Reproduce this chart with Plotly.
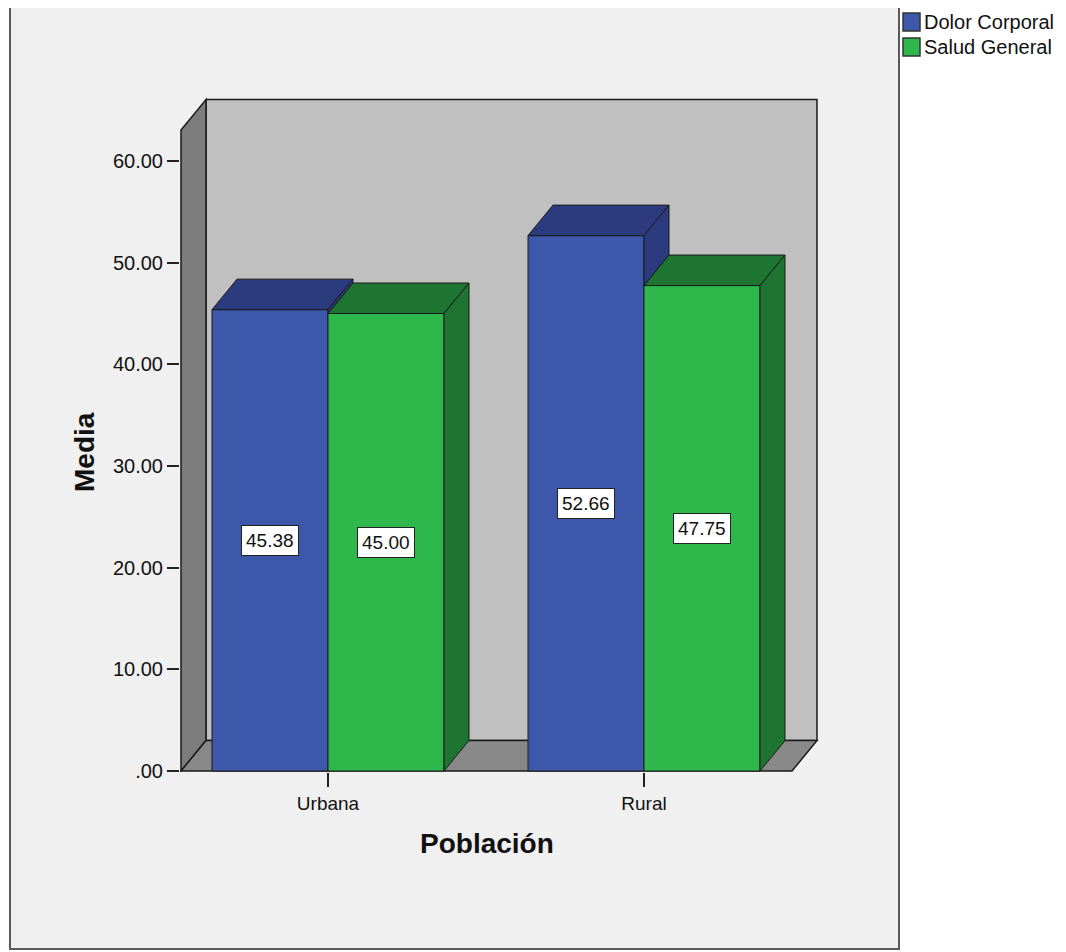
import plotly.graph_objects as go

# ---------------- data ----------------
categories = ["Urbana", "Rural"]
series_names = ["Dolor Corporal", "Salud General"]
dolor_corporal = [45.38, 52.66]
salud_general = [45.00, 47.75]
y_tick_values = [0, 10, 20, 30, 40, 50, 60]
y_tick_labels = [".00", "10.00", "20.00", "30.00", "40.00", "50.00", "60.00"]
x_title = "Población"
y_title = "Media"

series_values = [dolor_corporal, salud_general]

# ---------------- styles / layout constants ----------------
front_colors = ["#3d58ab", "#2eb84b"]
dark_colors = ["#2b3b7d", "#1e7531"]
EDGE = "#1a1a1a"
FONT = "Liberation Sans, Arial, sans-serif"

PAGE_W, PAGE_H = 1066, 952
BODY_MARGIN = 8                      # default browser body margin
PL, PR, PT, PB = 180, 835, 88, 772   # plot-area edges in page pixels
CAT0_PX = 328      # pixel of first category centre
CAT_PX = 316       # pixels per category step
ZERO_PX = 771      # pixel of value 0
VAL_PX = 10.1667   # pixels per value unit


def xd(px):
    return (px - CAT0_PX) / CAT_PX


def yd(py):
    return (ZERO_PX - py) / VAL_PX


def xp(px):
    return (px - PL) / (PR - PL)


def yp(py):
    return (PB - py) / (PB - PT)


X0, X1 = xd(181), xd(792)          # front edges of the floor
YMAX = yd(130)                      # top of the front of the left wall
DX, DY = 25 / CAT_PX, 30.5 / VAL_PX  # 3-D depth offset
BAR_W = 116 / CAT_PX
n_series = len(series_values)
cat_pos = list(range(len(categories)))

fig = go.Figure()

# front faces of bars
for j, (name, vals) in enumerate(zip(series_names, series_values)):
    fig.add_trace(go.Bar(
        x=cat_pos, y=vals, name=name,
        marker=dict(color=front_colors[j], line=dict(color=EDGE, width=1)),
        showlegend=False, hoverinfo="name+y",
    ))

# top and side faces
for i, c in enumerate(cat_pos):
    for j in range(n_series):
        h = series_values[j][i]
        xl = c - n_series * BAR_W / 2 + j * BAR_W
        xr = xl + BAR_W
        fig.add_trace(go.Scatter(
            x=[xl, xr, xr + DX, xl + DX, xl],
            y=[h, h, h + DY, h + DY, h],
            mode="lines", fill="toself", fillcolor=dark_colors[j],
            line=dict(color=EDGE, width=1), showlegend=False, hoverinfo="skip",
        ))
        base = series_values[j + 1][i] if j + 1 < n_series else 0
        if base < h:
            fig.add_trace(go.Scatter(
                x=[xr, xr, xr + DX, xr + DX, xr],
                y=[base, h, h + DY, base + DY, base],
                mode="lines", fill="toself", fillcolor=dark_colors[j],
                line=dict(color=EDGE, width=1), showlegend=False, hoverinfo="skip",
            ))


def path(pts):
    return "M " + " L ".join(f"{x},{y}" for x, y in pts) + " Z"


shapes = [
    # outer chart frame
    dict(type="rect", xref="paper", yref="paper", layer="below",
         x0=xp(10), x1=xp(899), y0=yp(949), y1=yp(6),
         fillcolor="#f0f0f0", line=dict(color="#5a5a5a", width=2)),
    # back wall
    dict(type="path", xref="x", yref="y", layer="below",
         path=path([(X0 + DX, DY), (X1 + DX, DY), (X1 + DX, YMAX + DY), (X0 + DX, YMAX + DY)]),
         fillcolor="#c0c0c0", line=dict(color=EDGE, width=1.5)),
    # left wall
    dict(type="path", xref="x", yref="y", layer="below",
         path=path([(X0, 0), (X0, YMAX), (X0 + DX, YMAX + DY), (X0 + DX, DY)]),
         fillcolor="#7c7c7c", line=dict(color=EDGE, width=1.5)),
    # floor
    dict(type="path", xref="x", yref="y", layer="below",
         path=path([(X0, 0), (X1, 0), (X1 + DX, DY), (X0 + DX, DY)]),
         fillcolor="#888888", line=dict(color=EDGE, width=1.5)),
]

annotations = []
# value labels
for i, c in enumerate(cat_pos):
    for j in range(n_series):
        h = series_values[j][i]
        xc = c - n_series * BAR_W / 2 + (j + 0.5) * BAR_W
        annotations.append(dict(
            x=xc, y=h / 2, xref="x", yref="y", text=f"{h:.2f}", showarrow=False,
            xanchor="center", yanchor="middle",
            bgcolor="white", bordercolor="#222222", borderwidth=1, borderpad=4,
            font=dict(family=FONT, size=19, color="#111111"),
        ))

# axis titles
annotations.append(dict(x=xp(487), y=yp(843), xref="paper", yref="paper", text=f"<b>{x_title}</b>",
                        xanchor="center", yanchor="middle",
                        showarrow=False, font=dict(family=FONT, size=28, color="#111111")))
annotations.append(dict(x=xp(84), y=yp(452), xref="paper", yref="paper", text=f"<b>{y_title}</b>",
                        xanchor="center", yanchor="middle",
                        showarrow=False, textangle=-90, font=dict(family=FONT, size=28, color="#111111")))

# legend (manual, SPSS style)
for j, name in enumerate(series_names):
    cy = 22 + 25 * j
    shapes.append(dict(type="rect", xref="paper", yref="paper",
                       x0=xp(903), x1=xp(920), y0=yp(cy + 9), y1=yp(cy - 9),
                       fillcolor=front_colors[j], line=dict(color="#333333", width=1.5)))
    annotations.append(dict(x=xp(922), y=yp(cy), xref="paper", yref="paper", text=name,
                            xanchor="left", yanchor="middle", showarrow=False,
                            font=dict(family=FONT, size=20, color="#111111")))

fig.update_layout(
    width=PAGE_W - BODY_MARGIN, height=PAGE_H - BODY_MARGIN,
    margin=dict(l=PL - BODY_MARGIN, r=PAGE_W - PR, t=PT - BODY_MARGIN, b=PAGE_H - PB,
                autoexpand=False),
    paper_bgcolor="white", plot_bgcolor="rgba(0,0,0,0)",
    barmode="group", bargap=1 - n_series * BAR_W, bargroupgap=0,
    showlegend=False,
    font=dict(family=FONT, color="#111111"),
    shapes=shapes, annotations=annotations,
    xaxis=dict(range=[xd(PL), xd(PR)], tickvals=cat_pos, ticktext=categories,
               ticks="outside", ticklen=14, tickcolor="#222222", tickwidth=1.5,
               showgrid=False, zeroline=False, showline=False,
               tickfont=dict(family=FONT, size=19, color="#111111")),
    yaxis=dict(range=[yd(PB), yd(PT)], tickvals=y_tick_values, ticktext=y_tick_labels,
               ticks="outside", ticklen=12, tickcolor="#222222", tickwidth=1.5,
               showgrid=False, zeroline=False, showline=False,
               tickfont=dict(family=FONT, size=20, color="#111111")),
)

fig.write_html("out.html")
